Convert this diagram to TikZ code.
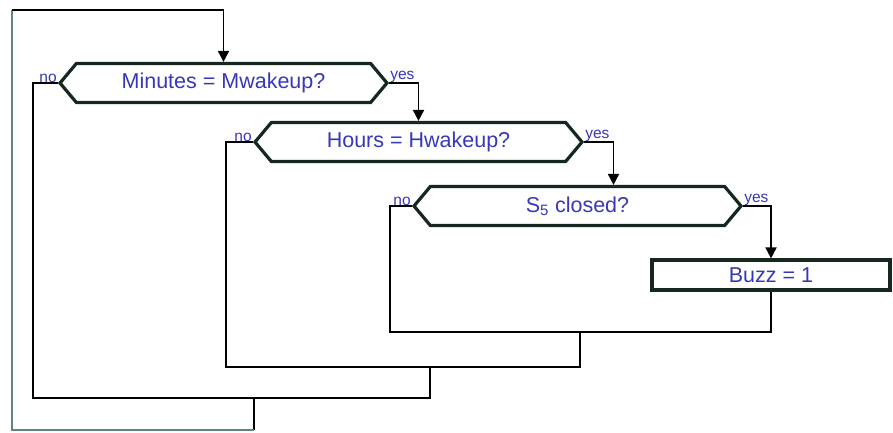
\documentclass[tikz,border=0pt]{standalone}
\usepackage{fontspec}
\setmainfont{Liberation Sans}
\usetikzlibrary{shapes.symbols,arrows.meta}

\definecolor{textblue}{RGB}{55,55,185}
\definecolor{edgedark}{RGB}{22,40,30}
\definecolor{loopgreen}{RGB}{95,135,120}

\begin{document}
\begin{tikzpicture}[x=1pt, y=-1pt,
    decision/.style={signal, signal to=west and east, signal pointer angle=100,
      draw=edgedark, line width=3.2pt, minimum width=327pt, minimum height=39pt,
      inner sep=0pt, text=textblue, font=\fontsize{21.5}{24}\selectfont},
    action/.style={rectangle, draw=edgedark, line width=3.2pt, minimum width=238pt,
      minimum height=30pt, inner sep=0pt, text=textblue, font=\fontsize{21.5}{24}\selectfont},
    answer/.style={text=textblue, inner sep=1pt, font=\fontsize{15.5}{17}\selectfont},
    wire/.style={draw=black, line width=1.8pt},
    flow/.style={wire, -{Triangle[length=11pt,width=11pt]}},
    loopline/.style={draw=loopgreen, line width=2.4pt}]

  \useasboundingbox (0,0) rectangle (893,432);

  \node [decision] (dec1) at (223.5,83) {Minutes = Mwakeup?};
  \node [decision] (dec2) at (418.5,142) {Hours = Hwakeup?};
  \node [decision] (dec3) at (577.5,206) {S\textsubscript{5} closed?};
  \node [action]   (buzz) at (771,275) {Buzz = 1};

  \node [answer, anchor=south east] (no1)  at ([yshift=-1pt]dec1.west) {no};
  \node [answer, anchor=south west] (yes1) at ([yshift=-1pt]dec1.east) {yes};
  \node [answer, anchor=south east] (no2)  at ([yshift=-1pt]dec2.west) {no};
  \node [answer, anchor=south west] (yes2) at ([yshift=-1pt]dec2.east) {yes};
  \node [answer, anchor=south east] (no3)  at ([yshift=-1pt]dec3.west) {no};
  \node [answer, anchor=south west] (yes3) at ([yshift=-1pt]dec3.east) {yes};

  \coordinate (join3) at (580,332);
  \coordinate (join2) at (430,367);
  \coordinate (join1) at (254,398);
  \coordinate (loopbot) at (254,430);
  \coordinate (looptop) at (12,10);

  % yes branches
  \draw [flow] (dec1.east) -| (dec2.north);
  \draw [flow] (dec2.east) -| ([xshift=36pt]dec3.north);
  \draw [flow] (dec3.east) -| (buzz.north);

  % no branches
  \draw [wire] (dec3.west) -- ++(-22,0) |- (join3) -| (buzz.south);
  \draw [wire] (dec2.west) -- ++(-27,0) |- (join3 |- join2) -- (join3);
  \draw [wire] (dec1.west) -- ++(-25,0) |- (join2 |- join1) -- (join2);

  % back to the start
  \draw [wire] (join1) -- (loopbot);
  \draw [loopline] (loopbot) -| (looptop);
  \draw [flow] (looptop) -| (dec1.north);

\end{tikzpicture}
\end{document}
